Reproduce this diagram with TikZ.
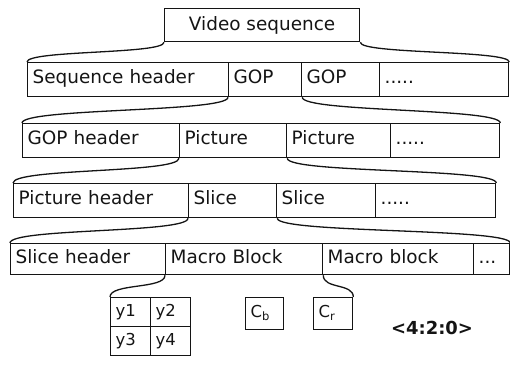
\documentclass[tikz,border=0pt]{standalone}
\usepackage{fontspec}
\setmainfont{DejaVu Sans}
\usetikzlibrary{calc}
\definecolor{scanink}{HTML}{141414}
\tikzset{
  celltext/.style={font=\fontsize{18.5}{21}\selectfont, text=scanink},
  smalltext/.style={font=\fontsize{16.5}{19}\selectfont, text=scanink},
  cellbox/.style={draw=scanink, line width=1.3bp, anchor=north west,
    inner xsep=5bp, inner ysep=0pt, align=left, text height=13bp,
    text depth=5bp, celltext},
  topbox/.style={draw=scanink, line width=1.3bp, anchor=north west,
    inner sep=0pt, celltext},
  splitcurve/.style={draw=scanink, line width=1.3bp}
}

\begin{document}
\begin{tikzpicture}[x=1bp,y=-1bp]
  % MPEG bitstream layers, each block opened into the row below.
  \useasboundingbox (0,0) rectangle (510,376);
  \node[topbox, minimum width=195bp, minimum height=33bp] (vs) at (164,8) {Video sequence};

  \foreach \n/\x/\y/\w/\h/\t in {
    seqhdr/27/62/201/34/{Sequence header}, gopa/228/62/73/34/GOP,
    gopb/301/62/78/34/GOP, dotsa/379/62/129/34/{.....},
    gophdr/22/123/157/34/{GOP header}, pica/179/123/107/34/Picture,
    picb/286/123/104/34/Picture, dotsb/390/123/109/34/{.....},
    pichdr/13/183/175/34/{Picture header}, slicea/188/183/88/34/Slice,
    sliceb/276/183/99/34/Slice, dotsc/375/183/120/34/{.....},
    slchdr/10/243/155/31/{Slice header}, mba/165/243/157/31/{Macro Block},
    mbb/322/243/151/31/{Macro block}, dotsd/473/243/36/31/{...}
  } {
    \pgfmathsetmacro\tw{\w-10}
    \node[cellbox, text width=\tw bp, minimum height=\h bp] (\n) at (\x,\y) {\t};
  }

  \foreach \n/\x/\y/\t in {ya/110/297/y1, yb/150/297/y2, yc/110/326/y3, yd/150/326/y4} {
    \node[cellbox, smalltext, text width=30bp, minimum height=29bp] (\n) at (\x,\y) {\t};
  }
  \node[cellbox, smalltext, text width=28bp, minimum height=32bp] (cb) at (245,297) {C\textsubscript{b}};
  \node[cellbox, smalltext, text width=29bp, minimum height=32bp] (cr) at (313,297) {C\textsubscript{r}};
  \node[celltext, font=\fontsize{18}{21}\selectfont\bfseries] (fmt) at (432,328) {<4:2:0>};

  \foreach \a/\b/\c/\k in {vs/seqhdr/dotsa/12, gopa/gophdr/dotsb/15,
    pica/pichdr/dotsc/15, slicea/slchdr/dotsd/15} {
    \draw[splitcurve] (\a.south west) .. controls ($(\a.south west)+(0,\k)$)
      and ($(\b.north west)+(0,-\k)$) .. (\b.north west);
    \draw[splitcurve] (\a.south east) .. controls ($(\a.south east)+(0,\k)$)
      and ($(\c.north east)+(0,-\k)$) .. (\c.north east);
  }
  \draw[splitcurve] (mba.south west) .. controls ($(mba.south west)+(0,14)$)
    and ($(ya.north west)+(0,-14)$) .. (ya.north west);
  \draw[splitcurve] (mba.south east) .. controls ($(mba.south east)+(0,14)$)
    and ($(cr.north east)+(0,-14)$) .. (cr.north east);
\end{tikzpicture}
\end{document}
